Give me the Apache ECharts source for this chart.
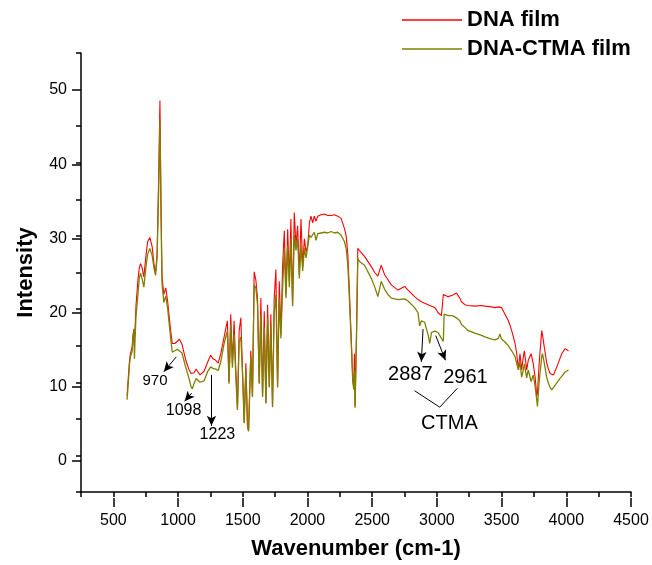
<!DOCTYPE html>
<html>
<head>
<meta charset="utf-8">
<script src="https://cdn.jsdelivr.net/npm/echarts@6/dist/echarts.min.js"></script>
<style>
html,body{margin:0;padding:0;background:#fff;}
#chart{width:652px;height:565px;}
</style>
</head>
<body>
<div id="chart"></div>
<script>
// ---- data ----
const wavenumber = [606,615,625,632,645,652,658,663,668,675,690,700,710,720,736,750,765,782,800,815,826,838,850,860,868,876,890,905,920,940,955,975,995,1010,1030,1060,1085,1100,1110,1123,1140,1150,1170,1201,1230,1252,1270,1291,1310,1330,1356,1381,1394,1407,1420,1433,1446,1459,1472,1485,1498,1511,1524,1537,1545,1562,1575,1588,1601,1614,1627,1640,1653,1666,1679,1692,1705,1717,1730,1743,1756,1769,1782,1795,1808,1821,1834,1847,1860,1872,1885,1898,1911,1924,1937,1950,1963,1976,1989,2002,2015,2027,2040,2053,2066,2079,2105,2131,2157,2183,2208,2234,2260,2286,2299,2312,2325,2338,2350,2358,2363,2368,2380,2389,2402,2441,2493,2520,2544,2570,2596,2622,2648,2699,2751,2777,2828,2854,2867,2880,2906,2919,2932,2945,2958,2984,2996,3009,3022,3035,3044,3050,3056,3087,3120,3151,3177,3190,3216,3242,3294,3345,3371,3423,3449,3475,3487,3500,3526,3552,3565,3578,3604,3617,3630,3642,3655,3668,3676,3694,3706,3728,3745,3759,3772,3777,3790,3810,3816,3830,3849,3862,3875,3888,3901,3927,3950,3965,3991,4017];
const dnaFilm = [8.2,10.5,13.0,13.9,14.8,16.5,17.0,16.0,17.5,20.5,24.0,25.6,26.2,25.8,24.4,27.0,29.2,29.8,28.5,26.0,24.9,27.5,38.0,48.5,35.0,24.5,22.0,22.9,21.0,17.5,15.3,15.3,15.6,15.9,15.2,13.0,11.7,11.2,11.0,11.3,11.8,11.5,11.0,11.5,12.8,13.7,13.2,13.0,12.6,13.9,16.2,18.4,10.0,19.3,12.6,18.4,11.7,6.3,17.0,18.8,11.7,4.5,12.6,4.0,3.4,14.3,8.1,25.1,24.0,21.5,9.9,21.5,8.1,19.7,7.2,20.6,9.4,19.3,6.7,21.5,25.4,9.4,23.8,16.6,26.0,30.7,22.0,30.9,23.8,32.3,20.6,33.2,28.7,31.4,24.7,32.3,25.8,29.6,27.8,28.7,31.8,32.7,31.8,32.7,32.0,32.7,32.9,33.0,32.8,32.8,32.9,32.7,32.4,31.0,30.0,27.5,22.0,16.0,10.5,9.4,13.9,6.7,18.0,28.3,28.0,27.2,25.8,25.0,24.5,26.0,24.7,24.0,23.3,22.6,23.1,22.6,21.7,21.3,21.1,21.0,20.8,20.7,20.6,20.5,20.4,20.2,19.9,19.5,19.3,19.1,19.0,22.0,21.9,21.7,21.9,22.2,21.5,21.0,20.6,20.5,20.4,20.5,20.4,20.3,20.2,20.3,20.2,20.2,19.3,18.4,17.8,17.05,15.3,13.9,11.7,13.9,11.7,13.5,14.3,11.7,13.0,13.9,12.5,10.7,8.1,8.5,12.5,17.05,16.5,14.8,12.6,11.8,11.2,11.0,11.0,12.1,13.2,13.9,14.6,14.3];
const dnaCtmaFilm = [7.6,9.8,12.5,13.5,14.2,16.0,17.3,13.2,16.0,19.0,22.0,24.2,24.9,24.3,23.0,25.5,27.5,28.3,27.3,25.5,24.6,27.0,36.0,46.0,33.0,23.5,20.9,21.8,20.0,16.5,14.1,14.3,14.5,14.6,14.0,12.0,10.5,9.4,9.1,9.8,10.5,10.5,10.0,10.2,11.5,12.1,11.9,11.8,11.6,12.8,15.3,17.0,9.8,17.9,12.0,16.6,11.0,6.2,15.5,16.2,11.2,4.4,11.8,3.9,3.3,13.5,8.0,23.3,22.9,20.6,9.8,19.3,8.0,17.5,7.1,18.8,9.3,17.9,6.6,19.5,22.0,9.3,21.5,16.0,22.9,28.3,21.5,28.7,23.0,29.6,20.4,30.1,28.0,29.6,24.2,28.7,25.2,28.3,27.0,27.0,30.1,29.8,29.6,30.5,29.4,30.3,30.4,30.5,30.4,30.6,30.4,30.5,30.1,29.2,28.3,26.0,21.0,15.5,10.0,9.0,11.5,6.5,17.0,26.9,26.5,26.0,24.2,23.0,21.7,23.8,22.7,22.0,21.5,21.3,21.4,21.1,20.2,19.5,17.7,18.4,18.2,17.3,16.5,15.3,16.8,17.0,17.05,16.8,16.4,16.0,15.8,15.6,19.3,19.1,19.1,18.8,18.4,17.9,17.5,17.05,16.7,16.4,16.2,15.9,15.8,16.0,16.6,15.9,15.5,15.0,14.8,14.3,13.5,12.56,11.7,12.8,10.7,11.7,12.5,10.6,11.7,10.1,11.0,9.4,7.5,6.7,10.0,13.5,13.9,12.6,10.6,9.87,9.3,8.96,9.2,9.9,10.5,10.8,11.4,11.67];
const seriesNames = ['DNA film', 'DNA-CTMA film'];
const xMajorTicks = [500, 4500, 500];   // min, max, step
const yMajorTicks = [0, 50, 10];        // min, max, step
const xRange = [250, 4500];
const yRange = [-5, 55];
// annotations: [x1, y1, x2, y2] in data units
const arrows = [[986,13.46,890,11.44],[1105,8.52,1051,7.40],[1258,11.0,1258,4.04],[2893,17.27,2880,12.79],[2991,16.38,3066,13.01]];
const bracketLines = [[2828,8.84,3022,6.59],[3022,6.59,3159,9.19]];
const annoText = ['970','1098','1223','2887','2961','CTMA'];
const annoX = [822,1043,1304,2795,3221,3097];
const annoY = [10.23,6.06,2.83,11.10,10.7,4.37];
const annoSize = [15,16,16,20,20,20];

// ---- layout ----
const W = 652, H = 565;
const G = {left: 81, right: 21, top: 53, bottom: 67};
const plotW = W - G.left - G.right, plotH = H - G.top - G.bottom;
const pxPerX = plotW / (xRange[1] - xRange[0]);
const pxPerY = plotH / (yRange[1] - yRange[0]);
const FONT = '"Liberation Sans", Arial, sans-serif';
const AX = {color: '#000', width: 1.5};
const plain = v => String(v);

const chart = echarts.init(document.getElementById('chart'), null, {renderer: 'canvas'});
const opt = {
  animation: false,
  backgroundColor: '#fff',
  textStyle: {fontFamily: FONT},
  grid: [
    {left: G.left, right: G.right, top: G.top, bottom: G.bottom},
    {left: G.left + (xMajorTicks[0] - xRange[0]) * pxPerX, right: G.right + (xRange[1] - xMajorTicks[1]) * pxPerX, top: G.top, bottom: G.bottom},
    {left: G.left, right: G.right, top: G.top + (yRange[1] - yMajorTicks[1]) * pxPerY, bottom: G.bottom + (yMajorTicks[0] - yRange[0]) * pxPerY}
  ],
  xAxis: [
    {gridIndex: 0, type: 'value', position: 'bottom', min: xRange[0], max: xRange[1], interval: 250,
      axisLine: {onZero: false, lineStyle: AX}, axisTick: {length: 5, lineStyle: AX}, axisLabel: {show: false}, splitLine: {show: false},
      name: 'Wavenumber (cm-1)', nameLocation: 'middle', nameGap: 46,
      nameTextStyle: {fontSize: 22, fontWeight: 'bold', color: '#000', fontFamily: FONT}},
    {gridIndex: 1, type: 'value', position: 'bottom', min: xMajorTicks[0], max: xMajorTicks[1], interval: xMajorTicks[2],
      axisLine: {show: false, onZero: false}, axisTick: {length: 9, lineStyle: AX},
      axisLabel: {fontSize: 16, color: '#000', margin: 15, fontFamily: FONT, showMinLabel: true, showMaxLabel: true, formatter: plain},
      splitLine: {show: false}},
    {gridIndex: 2, type: 'value', show: false, min: xRange[0], max: xRange[1], axisLine: {onZero: false}}
  ],
  yAxis: [
    {gridIndex: 0, type: 'value', position: 'left', min: yRange[0], max: yRange[1], interval: 5,
      axisLine: {onZero: false, lineStyle: AX}, axisTick: {length: 5, lineStyle: AX}, axisLabel: {show: false}, splitLine: {show: false},
      name: 'Intensity', nameLocation: 'middle', nameGap: 44, nameRotate: 90,
      nameTextStyle: {fontSize: 22, fontWeight: 'bold', color: '#000', fontFamily: FONT}},
    {gridIndex: 1, type: 'value', show: false, min: yRange[0], max: yRange[1], axisLine: {onZero: false}},
    {gridIndex: 2, type: 'value', position: 'left', min: yMajorTicks[0], max: yMajorTicks[1], interval: yMajorTicks[2],
      axisLine: {show: false, onZero: false}, axisTick: {length: 9, lineStyle: AX},
      axisLabel: {fontSize: 16, color: '#000', margin: 14, fontFamily: FONT, showMinLabel: true, showMaxLabel: true, formatter: plain},
      splitLine: {show: false}}
  ],
  legend: {
    orient: 'vertical', left: 397, top: 4, icon: 'rect', itemWidth: 60, itemHeight: 1.5, itemGap: 7,
    textStyle: {fontSize: 22, fontWeight: 'bold', color: '#000', fontFamily: FONT},
    data: seriesNames
  },
  series: [
    {name: seriesNames[0], type: 'line', xAxisIndex: 0, yAxisIndex: 0, symbol: 'none',
      lineStyle: {color: '#ff0000', width: 1.1}, itemStyle: {color: '#ff0000'},
      data: wavenumber.map((x, i) => [x, dnaFilm[i]]),
      markLine: {silent: true, symbol: ['none', 'none'], label: {show: false},
        lineStyle: {color: '#000', width: 1, type: 'solid'}, emphasis: {disabled: true},
        data: bracketLines.map(a => [{coord: [a[0], a[1]]}, {coord: [a[2], a[3]]}])}
    },
    {name: seriesNames[1], type: 'line', xAxisIndex: 0, yAxisIndex: 0, symbol: 'none',
      lineStyle: {color: '#808000', width: 1.3}, itemStyle: {color: '#808000'},
      data: wavenumber.map((x, i) => [x, dnaCtmaFilm[i]]),
      markLine: {silent: true, symbol: ['none', 'arrow'], symbolSize: [7, 10], label: {show: false},
        lineStyle: {color: '#000', width: 1, type: 'solid'}, emphasis: {disabled: true},
        data: arrows.map(a => [{coord: [a[0], a[1]]}, {coord: [a[2], a[3]]}])},
      markPoint: {silent: true, symbol: 'circle', symbolSize: 1, itemStyle: {color: 'rgba(0,0,0,0)'},
        data: annoText.map((t, i) => ({name: t, coord: [annoX[i], annoY[i]], value: t,
          label: {show: true, position: 'inside', formatter: t, color: '#000', fontSize: annoSize[i], fontFamily: FONT}}))}
    }
  ]
};
chart.setOption(opt);
</script>
</body>
</html>
